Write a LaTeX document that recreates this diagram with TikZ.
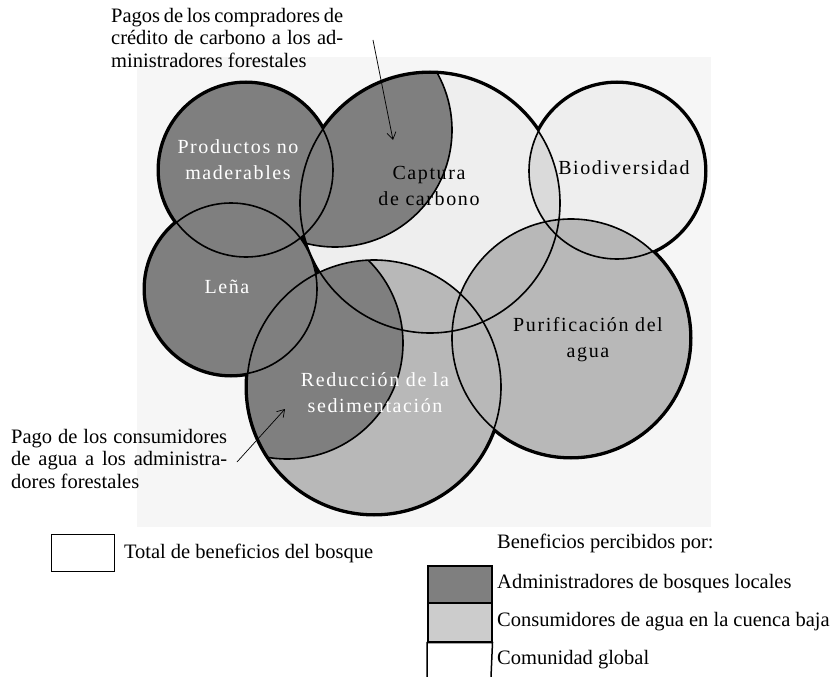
\documentclass[tikz,border=0pt]{standalone}
\usepackage{fontspec}
\setmainfont{Liberation Serif}
\newfontfamily\spacedserif[LetterSpace=8]{Liberation Serif}
\usetikzlibrary{arrows.meta}

\definecolor{panel}{HTML}{F6F6F6}
\definecolor{localshare}{HTML}{7F7F7F}
\definecolor{watershare}{HTML}{B8B8B8}
\definecolor{globalshare}{HTML}{EEEEEE}
\definecolor{overlapshare}{HTML}{DADADA}
\definecolor{waterkey}{HTML}{CCCCCC}

\begin{document}
\begin{tikzpicture}[x=1pt, y=-1pt,
        node font=\fontsize{20.5}{22.5}\selectfont,
        ringtext/.style={font=\spacedserif\fontsize{20}{26}\selectfont, align=center, inner sep=0pt},
        rim/.style={line width=5pt},
        seam/.style={line width=1.6pt},
        note/.style={align=left, inner sep=0pt, anchor=north west},
        pointer/.style={line width=0.7pt, -{Straight Barb[length=7pt,width=9pt]}},
        swatch/.style={draw, line width=1.5pt, inner sep=0pt, anchor=north west, minimum width=64pt}]
        \useasboundingbox (0,0) rectangle (839,677);
        \fill[panel] (137,57) rectangle (711,527);

        % ring centres
        \coordinate (prod) at (246,170);
        \coordinate (lena) at (231,289);
        \coordinate (capt) at (430,203);
        \coordinate (bio) at (617,171);
        \coordinate (puri) at (571,338);
        \coordinate (redu) at (374,387);
        \coordinate (admC) at (335,130);
        \coordinate (admR) at (287,343);

        % outer rim, inner half is covered by the fills
        \foreach \ring/\rad in {prod/87, lena/86, capt/130, bio/88, puri/119, redu/127}
          \draw[rim] (\ring) circle[radius=\rad pt];

        \fill[globalshare] (capt) circle[radius=130pt] (bio) circle[radius=88pt];
        \begin{scope}
          \clip (capt) circle[radius=130pt];
          \fill[overlapshare] (bio) circle[radius=88pt];
          \fill[localshare] (admC) circle[radius=117pt];
        \end{scope}
        \fill[watershare] (puri) circle[radius=119pt] (redu) circle[radius=127pt];
        \begin{scope}
          \clip (redu) circle[radius=127pt];
          \fill[localshare] (admR) circle[radius=116pt];
        \end{scope}
        \fill[localshare] (prod) circle[radius=87pt] (lena) circle[radius=86pt];

        % thin seams
        \foreach \ring/\rad in {prod/87, lena/86, capt/130, bio/88, puri/119, redu/127}
          \draw[seam] (\ring) circle[radius=\rad pt];
        \begin{scope}
          \clip (capt) circle[radius=130pt];
          \draw[seam] (admC) circle[radius=117pt];
        \end{scope}
        \begin{scope}
          \clip (redu) circle[radius=127pt];
          \draw[seam] (admR) circle[radius=116pt];
        \end{scope}

        \node[ringtext, text=white] (lblProd) at (238,160) {Productos no\\maderables};
        \node[ringtext, text=white] (lblLena) at (227,287) {Leña};
        \node[ringtext] (lblCapt) at (429,186) {Captura\\de carbono};
        \node[ringtext] (lblBio) at (624,168) {Biodiversidad};
        \node[ringtext] (lblPuri) at (588,340) {Purificación del\\agua};
        \node[ringtext, text=white] (lblRedu) at (375,393) {Reducción de la\\sedimentación};

        % payments
        \node[note] (payCarbon) at (111,8)
          {\makebox[232pt][s]{Pagos de los compradores de}\\
           \makebox[232pt][s]{crédito de carbono a los ad-}\\
           ministradores forestales};
        \coordinate (carbonTail) at (373,40);
        \coordinate (carbonTip) at (393,140);
        \draw[pointer] (carbonTail) -- (carbonTip);

        \node[note] (payWater) at (11,429)
          {\makebox[216pt][s]{Pago de los consumidores}\\
           \makebox[216pt][s]{de agua a los administra-}\\
           dores forestales};
        \coordinate (waterTail) at (237,462);
        \coordinate (waterTip) at (285,409);
        \draw[pointer] (waterTail) -- (waterTip);

        % legend
        \node[swatch, minimum width=63pt, minimum height=37pt, line width=1pt] (keyTotal) at (51,534) {};
        \node[anchor=west, xshift=2pt] (txtTotal) at (keyTotal.east) {Total de beneficios del bosque};
        \node[anchor=west, inner sep=0pt] (txtShare) at (497,543) {Beneficios percibidos por:};
        \node[swatch, fill=localshare, minimum height=37pt] (keyLocal) at (427,565) {};
        \node[swatch, fill=waterkey, minimum height=39pt] (keyWater) at (427,602) {};
        \draw[line width=1.5pt] (427,677) -- (keyWater.south west) -- (keyWater.south east) -- (491,677);
        \node[anchor=west, inner sep=0pt] (txtLocal) at (497,584) {Administradores de bosques locales};
        \node[anchor=west, inner sep=0pt] (txtWater) at (497,622) {Consumidores de agua en la cuenca baja};
        \node[anchor=west, inner sep=0pt] (txtGlobal) at (497,660) {Comunidad global};
\end{tikzpicture}
\end{document}
